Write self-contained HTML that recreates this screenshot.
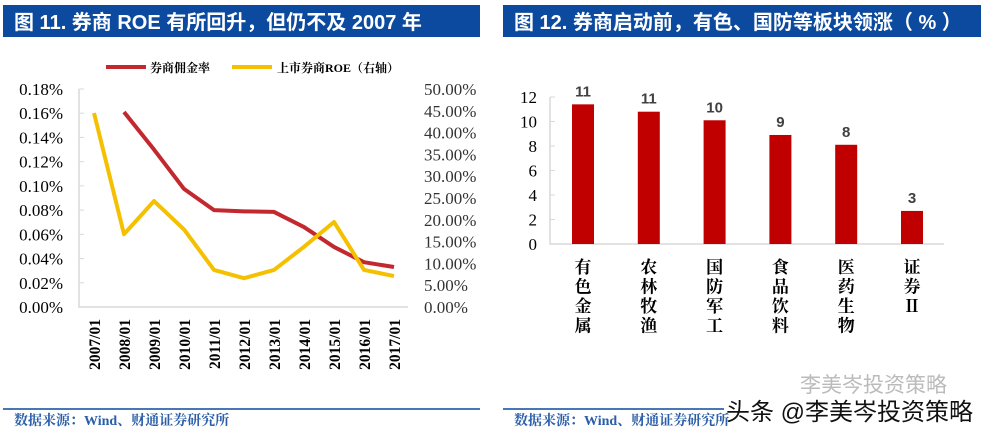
<!DOCTYPE html>
<html><head><meta charset="utf-8"><style>
body{margin:0;background:#fff;width:997px;height:435px;overflow:hidden;font-family:"Liberation Serif","Noto Serif CJK SC",serif}
svg{display:block}
</style></head><body>
<svg width="997" height="435">
<g>
<rect x="3" y="5" width="477" height="32" fill="#0b4a9e"/>
<text x="14" y="29" fill="#fff" font-size="20" font-weight="bold" font-family="Liberation Sans,Noto Sans CJK SC,sans-serif">图 11. 券商 ROE 有所回升，但仍不及 2007 年</text>
<line x1="106" y1="67" x2="146" y2="67" stroke="#c3282e" stroke-width="4"/>
<text x="150" y="72" font-size="12" font-weight="bold">券商佣金率</text>
<line x1="232" y1="67" x2="272" y2="67" stroke="#f5c000" stroke-width="4"/>
<text x="277" y="72" font-size="12" font-weight="bold">上市券商ROE（右轴）</text>
<g id="lchart"></g>
<line x1="3" y1="409" x2="480" y2="409" stroke="#0b4a9e" stroke-width="1.5"/>
<text x="14" y="425" fill="#2a5ea8" font-size="14" font-weight="bold">数据来源：Wind、财通证券研究所</text>
</g>
<g>
<rect x="503" y="5" width="478" height="32" fill="#0b4a9e"/>
<text x="514" y="29" fill="#fff" font-size="20" font-weight="bold" font-family="Liberation Sans,Noto Sans CJK SC,sans-serif">图 12. 券商启动前，有色、国防等板块领涨（ % ）</text>
<g id="rchart"></g>
<line x1="503" y1="409" x2="724" y2="409" stroke="#0b4a9e" stroke-width="1.5"/>
<text x="514" y="425" fill="#2a5ea8" font-size="14" font-weight="bold">数据来源：Wind、财通证券研究所</text>
<text x="800" y="392" fill="#bbb" font-size="21" font-family="Liberation Sans,Noto Sans CJK SC,sans-serif">李美岑投资策略</text>
<text x="726" y="420" fill="#111" font-size="24" font-family="Liberation Sans,Noto Sans CJK SC,sans-serif">头条 @李美岑投资策略</text>
</g>
</svg>
<script>
const years=["2007/01","2008/01","2009/01","2010/01","2011/01","2012/01","2013/01","2014/01","2015/01","2016/01","2017/01"];
const commission=[null,0.161,0.130,0.0975,0.080,0.079,0.0785,0.066,0.0496,0.037,0.033];
const roe=[44.5,16.7,24.3,17.8,8.5,6.6,8.5,13.8,19.5,8.5,7.1];
const leftTicks=["0.00%","0.02%","0.04%","0.06%","0.08%","0.10%","0.12%","0.14%","0.16%","0.18%"];
const rightTicks=["0.00%","5.00%","10.00%","15.00%","20.00%","25.00%","30.00%","35.00%","40.00%","45.00%","50.00%"];
const sectors=["有色金属","农林牧渔","国防军工","食品饮料","医药生物","证券Ⅱ"];
const gains=[11.4,10.8,10.1,8.9,8.1,2.7];
const gainLabels=["11","11","10","9","8","3"];
const yTicksR=["0","2","4","6","8","10","12"];
const NS="http://www.w3.org/2000/svg";
function mk(p,t,a){const e=document.createElementNS(NS,t);for(const k in a)e.setAttribute(k,a[k]);p.appendChild(e);return e;}
const L=document.getElementById('lchart');
const x0=94,dx=30,yb=307,yt=89;
const xL=i=>x0+i*dx, yC=v=>yb-(yb-yt)*v/0.18, yR=v=>yb-(yb-yt)*v/50;
let ax=mk(L,'path',{d:`M79 ${yt}V${yb}H408`,stroke:'#d9d9d9','stroke-width':1.5,fill:'none'});

leftTicks.forEach((t,i)=>{const y=yb-(yb-yt)*i/9;
 const tk=mk(L,'line',{x1:79,x2:84,y1:y,y2:y,stroke:'#d9d9d9'});
 const e=mk(L,'text',{x:63,y:y+6,'text-anchor':'end','font-size':17});e.textContent=t;
 });
rightTicks.forEach((t,i)=>{const y=yb-(yb-yt)*i/10;
 const e=mk(L,'text',{x:424,y:y+6,'font-size':17,fill:'#333'});e.textContent=t;
 });
years.forEach((t,i)=>{const e=mk(L,'text',{x:0,y:0,'font-size':15.5,'font-weight':'bold','text-anchor':'end',transform:`translate(${xL(i)+6},319) rotate(-90)`});e.textContent=t;
 });
let pr=commission.map((v,i)=>v==null?null:`${xL(i)},${yC(v)}`).filter(Boolean).join(' ');
let l1=mk(L,'polyline',{points:pr,fill:'none',stroke:'#c3282e','stroke-width':4,'stroke-linejoin':'round'});

let l2=mk(L,'polyline',{points:roe.map((v,i)=>`${xL(i)},${yR(v)}`).join(' '),fill:'none',stroke:'#f5c000','stroke-width':4,'stroke-linejoin':'round'});

const R=document.getElementById('rchart');
const rb=244,rt=97,bx0=583,bdx=65.8,bw=22;
const yB=v=>rb-(rb-rt)*v/12;
let ax2=mk(R,'path',{d:`M550 ${rt}V${rb}H944`,stroke:'#d9d9d9','stroke-width':1.5,fill:'none'});

yTicksR.forEach((t,i)=>{const y=yB(i*2);
 const tk=mk(R,'line',{x1:550,x2:555,y1:y,y2:y,stroke:'#d9d9d9'});
 const e=mk(R,'text',{x:537,y:y+6,'text-anchor':'end','font-size':17});e.textContent=t;
 });
sectors.forEach((s,i)=>{const cx=bx0+i*bdx;
 const r=mk(R,'rect',{x:cx-bw/2,y:yB(gains[i]),width:bw,height:rb-yB(gains[i]),fill:'#c00000'});
 
 const lb=mk(R,'text',{x:cx,y:yB(gains[i])-8,'text-anchor':'middle','font-size':15,'font-weight':'bold',fill:'#404040','font-family':'Liberation Sans,sans-serif'});lb.textContent=gainLabels[i];
 
 [...s].forEach((c,j)=>{const t=mk(R,'text',{x:cx,y:273+j*19.5,'text-anchor':'middle','font-size':17,'font-weight':'bold'});t.textContent=c;
  });
});
</script>
</body></html>
